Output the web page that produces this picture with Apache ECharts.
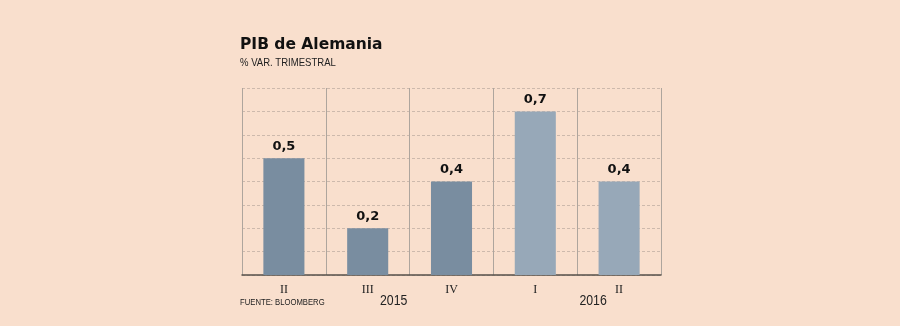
<!DOCTYPE html>
<html><head><meta charset="utf-8">
<script src="https://cdn.jsdelivr.net/npm/echarts@6/dist/echarts.min.js"></script>
<style>html,body{margin:0;padding:0;background:#f9dfcd;}#c{width:900px;height:326px;}</style>
</head><body><div id="c"></div>
<script>
const categories = ['II', 'III', 'IV', 'I', 'II'];
const values = [0.5, 0.2, 0.4, 0.7, 0.4];
const yearLabels = ['2015', '2016'];
const yTicks = [0, 0.1, 0.2, 0.3, 0.4, 0.5, 0.6, 0.7, 0.8];
const darkColor = '#798da0', lightColor = '#97a8b8';
const barColors = [darkColor, darkColor, darkColor, lightColor, lightColor];

const chart = echarts.init(document.getElementById('c'));
chart.setOption({
  backgroundColor: '#f9dfcd',
  animation: false,
  grid: { left: 242, right: 239, top: 88, bottom: 51 },
  xAxis: {
    type: 'category', data: categories,
    axisLine: { show: true, lineStyle: { color: '#555049', width: 1.5 } },
    axisTick: { show: false },
    axisLabel: { fontFamily: 'Liberation Serif', fontSize: 12, color: '#222', margin: 9 },
    splitLine: { show: true, interval: 0, lineStyle: { color: '#aea59d', width: 1 } }
  },
  yAxis: {
    type: 'value', min: yTicks[0], max: yTicks[yTicks.length - 1], interval: 0.1,
    axisLine: { show: false }, axisTick: { show: false }, axisLabel: { show: false },
    splitLine: { show: true, lineStyle: { color: '#cdb9ac', type: [3, 2], width: 1 } }
  },
  series: [{
    type: 'bar', barWidth: '49%',
    data: values.map((v, i) => ({ value: v, itemStyle: { color: barColors[i] } })),
    label: {
      show: true, position: 'top', distance: 5,
      fontFamily: 'DejaVu Sans', fontWeight: 'bold', fontSize: 13, color: '#111',
      formatter: p => String(p.value).replace('.', ',')
    }
  }],
  graphic: [
    { type: 'text', x: 240, y: 37, style: { text: 'PIB de Alemania', fontFamily: 'DejaVu Sans', fontWeight: 'bold', fontSize: 15.5, fill: '#111' } },
    { type: 'text', x: 240, y: 57, scaleX: 0.83, style: { text: '% VAR. TRIMESTRAL', fontFamily: 'Liberation Sans', fontSize: 11.5, fill: '#222' } },
    { type: 'text', x: 240, y: 297, scaleX: 0.81, style: { text: 'FUENTE: BLOOMBERG', fontFamily: 'Liberation Sans', fontSize: 9.5, fill: '#222' } }
  ]
});
// year labels positioned via the axis scale (between category positions)
const px = i => chart.convertToPixel({ xAxisIndex: 0 }, i);
const yearAnchors = [[1, 2, 0.31], [3, 4, 0.69]];
const yearGraphics = yearLabels.map((t, i) => {
  const [a, b, f] = yearAnchors[i];
  const x = px(a) + f * (px(b) - px(a));
  return { id: 'yr' + i, type: 'text', x: x, y: 293, scaleX: 0.82, style: { text: t, fontFamily: 'Liberation Sans', fontSize: 15, fill: '#222', align: 'center' } };
});
chart.setOption({ graphic: yearGraphics });
</script></body></html>
